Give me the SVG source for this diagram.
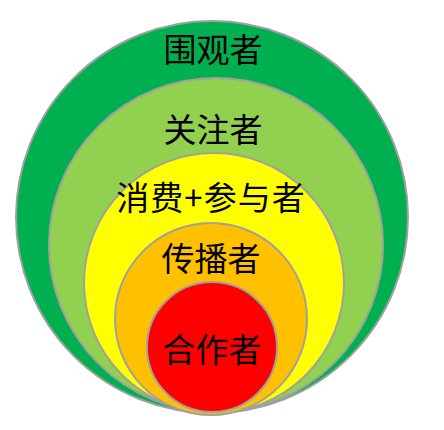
<svg xmlns="http://www.w3.org/2000/svg" width="444" height="430" viewBox="0 0 444 430">
<style>
.ring{stroke:#a0a0a0;stroke-width:2}
.lbl{font-family:"Noto Sans CJK SC","Noto Sans",sans-serif;font-size:33px;fill:#000;text-anchor:middle}
</style>
<rect width="444" height="430" fill="#ffffff"/>
<g id="n-weiguan">
<circle class="ring" cx="212" cy="217" r="196" fill="#00b050"/>
<text class="lbl" x="213" y="62">围观者</text>
</g>
<g id="n-guanzhu">
<circle class="ring" cx="216" cy="245" r="167" fill="#92d050"/>
<text class="lbl" x="213" y="142">关注者</text>
</g>
<g id="n-xiaofei">
<circle class="ring" cx="214" cy="283" r="130" fill="#ffff00"/>
<text class="lbl" x="211" y="210" letter-spacing="1">消费+参与者</text>
</g>
<g id="n-chuanbo">
<circle class="ring" cx="211" cy="319" r="96" fill="#ffc000"/>
<text class="lbl" x="211" y="271">传播者</text>
</g>
<g id="n-hezuo">
<circle class="ring" cx="212" cy="347" r="65" fill="#ff0000" stroke="#c8946a"/>
<text class="lbl" x="212" y="362">合作者</text>
</g>
<g id="connectors"/>
</svg>
